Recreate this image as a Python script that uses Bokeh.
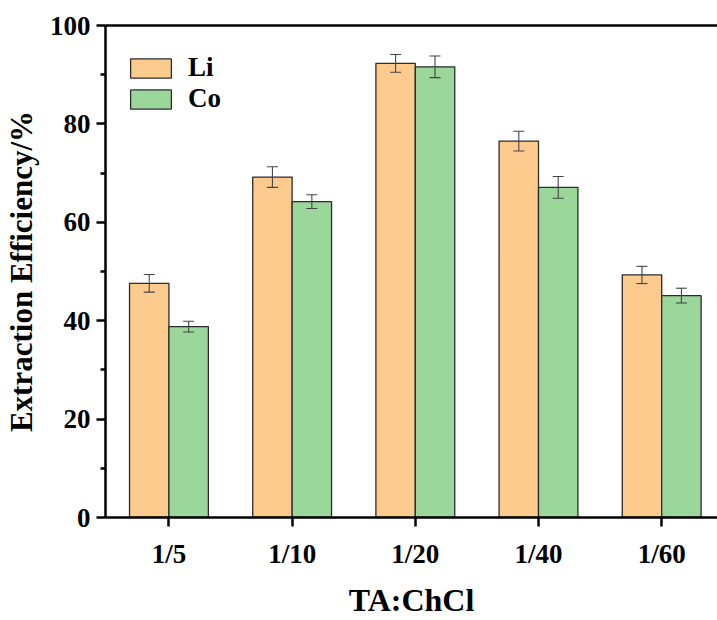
import numpy as np
from bokeh.plotting import figure
from bokeh.models import (ColumnDataSource, Range1d, FixedTicker, LinearAxis,
                          Whisker, TeeHead, Legend, LegendItem)
from bokeh.transform import dodge
from bokeh.embed import file_html
from bokeh.resources import INLINE

categories = ["1/5", "1/10", "1/20", "1/40", "1/60"]
li_values = [47.6, 69.2, 92.3, 76.5, 49.3]
li_errors = [1.8, 2.1, 1.8, 2.0, 1.75]
co_values = [38.8, 64.2, 91.6, 67.1, 45.1]
co_errors = [1.1, 1.4, 2.2, 2.2, 1.5]
y_ticks = [0, 20, 40, 60, 80, 100]

FONT = "Liberation Serif"
ORANGE = "#FECB8E"
GREEN = "#9BD69B"
EDGE = "#2b2b2b"

xpos = np.arange(1, len(categories) + 1)
src = ColumnDataSource(dict(
    x=xpos,
    li=li_values, co=co_values,
    li_up=np.array(li_values) + np.array(li_errors),
    li_lo=np.array(li_values) - np.array(li_errors),
    co_up=np.array(co_values) + np.array(co_errors),
    co_lo=np.array(co_values) - np.array(co_errors),
))

p = figure(width=717, height=620, output_backend="svg", toolbar_location=None,
           x_range=Range1d(0.485, 5.453), y_range=Range1d(0, 100),
           min_border_left=103, min_border_right=0, min_border_top=25,
           min_border_bottom=97)
p.outline_line_color = None
p.xgrid.visible = False
p.ygrid.visible = False
p.background_fill_color = "white"

w = 0.32
off = 0.16
r_li = p.vbar(x=dodge("x", -off, range=p.x_range), top="li", width=w, source=src,
              fill_color=ORANGE, line_color=EDGE, line_width=1.3)
r_co = p.vbar(x=dodge("x", off, range=p.x_range), top="co", width=w, source=src,
              fill_color=GREEN, line_color=EDGE, line_width=1.3)

for sgn, up, lo in [(-1, "li_up", "li_lo"), (1, "co_up", "co_lo")]:
    wk = Whisker(base=dodge("x", sgn * off, range=p.x_range), upper=up, lower=lo,
                 source=src, line_color="#444444", line_width=1.1, level="overlay",
                 upper_head=TeeHead(size=11, line_color="#444444", line_width=1.1),
                 lower_head=TeeHead(size=11, line_color="#444444", line_width=1.1))
    p.add_layout(wk)

# axes
xa = p.xaxis[0]
xa.ticker = FixedTicker(ticks=list(xpos))
xa.major_label_overrides = {int(i): c for i, c in zip(xpos, categories)}
xa.axis_label = "TA:ChCl"
ya = p.yaxis[0]
ya.ticker = FixedTicker(ticks=y_ticks, minor_ticks=[10, 30, 50, 70, 90])
ya.axis_label = "Extraction Efficiency/%"

for ax in (xa, ya):
    ax.axis_line_width = 2.5
    ax.axis_line_color = "black"
    ax.major_tick_line_width = 2.5
    ax.major_tick_in = 0
    ax.major_tick_out = 9
    ax.minor_tick_in = 0
    ax.minor_tick_out = 5
    ax.minor_tick_line_width = 2.5
    ax.major_label_text_font = FONT
    ax.major_label_text_font_style = "bold"
    ax.major_label_text_font_size = "27px"
    ax.major_label_text_color = "black"
    ax.axis_label_text_font = FONT
    ax.axis_label_text_font_style = "bold"
    ax.axis_label_text_font_size = "32px"
    ax.axis_label_text_color = "black"
ya.axis_label_text_font_size = "31px"
xa.minor_tick_out = 0
xa.major_label_standoff = 12
xa.axis_label_standoff = 10
ya.major_label_standoff = 6
ya.axis_label_standoff = 8

top_ax = LinearAxis(ticker=FixedTicker(ticks=[]), axis_line_width=2.5,
                    major_tick_out=0, minor_tick_out=0, major_label_text_font_size="0px")
p.add_layout(top_ax, "above")

legend = Legend(items=[LegendItem(label="Li", renderers=[r_li]),
                       LegendItem(label="Co", renderers=[r_co])],
                glyph_width=51, glyph_height=24,
                label_text_font=FONT, label_text_font_style="bold",
                label_text_font_size="27px", label_text_color="black",
                border_line_color=None, background_fill_alpha=0,
                spacing=0, padding=0, margin=0, label_standoff=12,
                label_height=24)
legend.location = (20, 403)
p.add_layout(legend)

open("out.html", "w").write(file_html(p, INLINE))
